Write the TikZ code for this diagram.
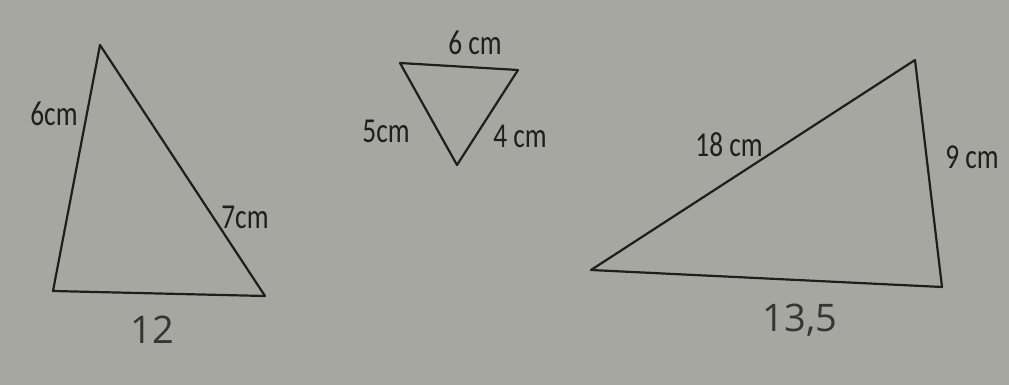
\documentclass[tikz,border=0pt]{standalone}
\usepackage{fontspec}
\setmainfont[FakeStretch=0.78]{Carlito}
\newfontfamily\handfont{Open Sans}
\definecolor{paper}{HTML}{A7A7A2}
\definecolor{ink}{HTML}{1E1E1E}
\definecolor{pencil}{HTML}{353535}
\begin{document}
\begin{tikzpicture}[x=1pt,y=-1pt,
  side/.style={draw=ink,line width=2.2pt,line join=round},
  lbl/.style={text=ink,font=\fontsize{35}{35}\selectfont,inner sep=0pt},
  hand/.style={text=pencil,font=\handfont\fontsize{38}{38}\selectfont,inner sep=0pt}]
\fill[paper] (0,0) rectangle (1009,385);
\useasboundingbox (0,0) rectangle (1009,385);
% triangle 1
\coordinate (a1) at (100,45);
\coordinate (b1) at (53,291);
\coordinate (c1) at (265,296);
\draw[side] (a1) -- (b1) -- (c1) -- cycle;
% triangle 2
\coordinate (a2) at (400,63);
\coordinate (b2) at (518,70);
\coordinate (c2) at (457,165);
\draw[side] (a2) -- (b2) -- (c2) -- cycle;
% triangle 3
\coordinate (a3) at (591,270);
\coordinate (b3) at (915,60);
\coordinate (c3) at (942,287);
\draw[side] (a3) -- (b3) -- (c3) -- cycle;
% labels
\node[lbl] (l6a) at (54,114) {6cm};
\node[lbl] (l7) at (245,217) {7cm};
\node[hand] (l12) at (152,330) {12};
\node[lbl] (l6b) at (475,43) {6 cm};
\node[lbl] (l5) at (386,131) {5cm};
\node[lbl] (l4) at (520,136) {4 cm};
\node[lbl] (l18) at (729,145) {18 cm};
\node[lbl] (l9) at (972,157) {9 cm};
\node[hand] (l135) at (800,320) {13,5};
\end{tikzpicture}
\end{document}
